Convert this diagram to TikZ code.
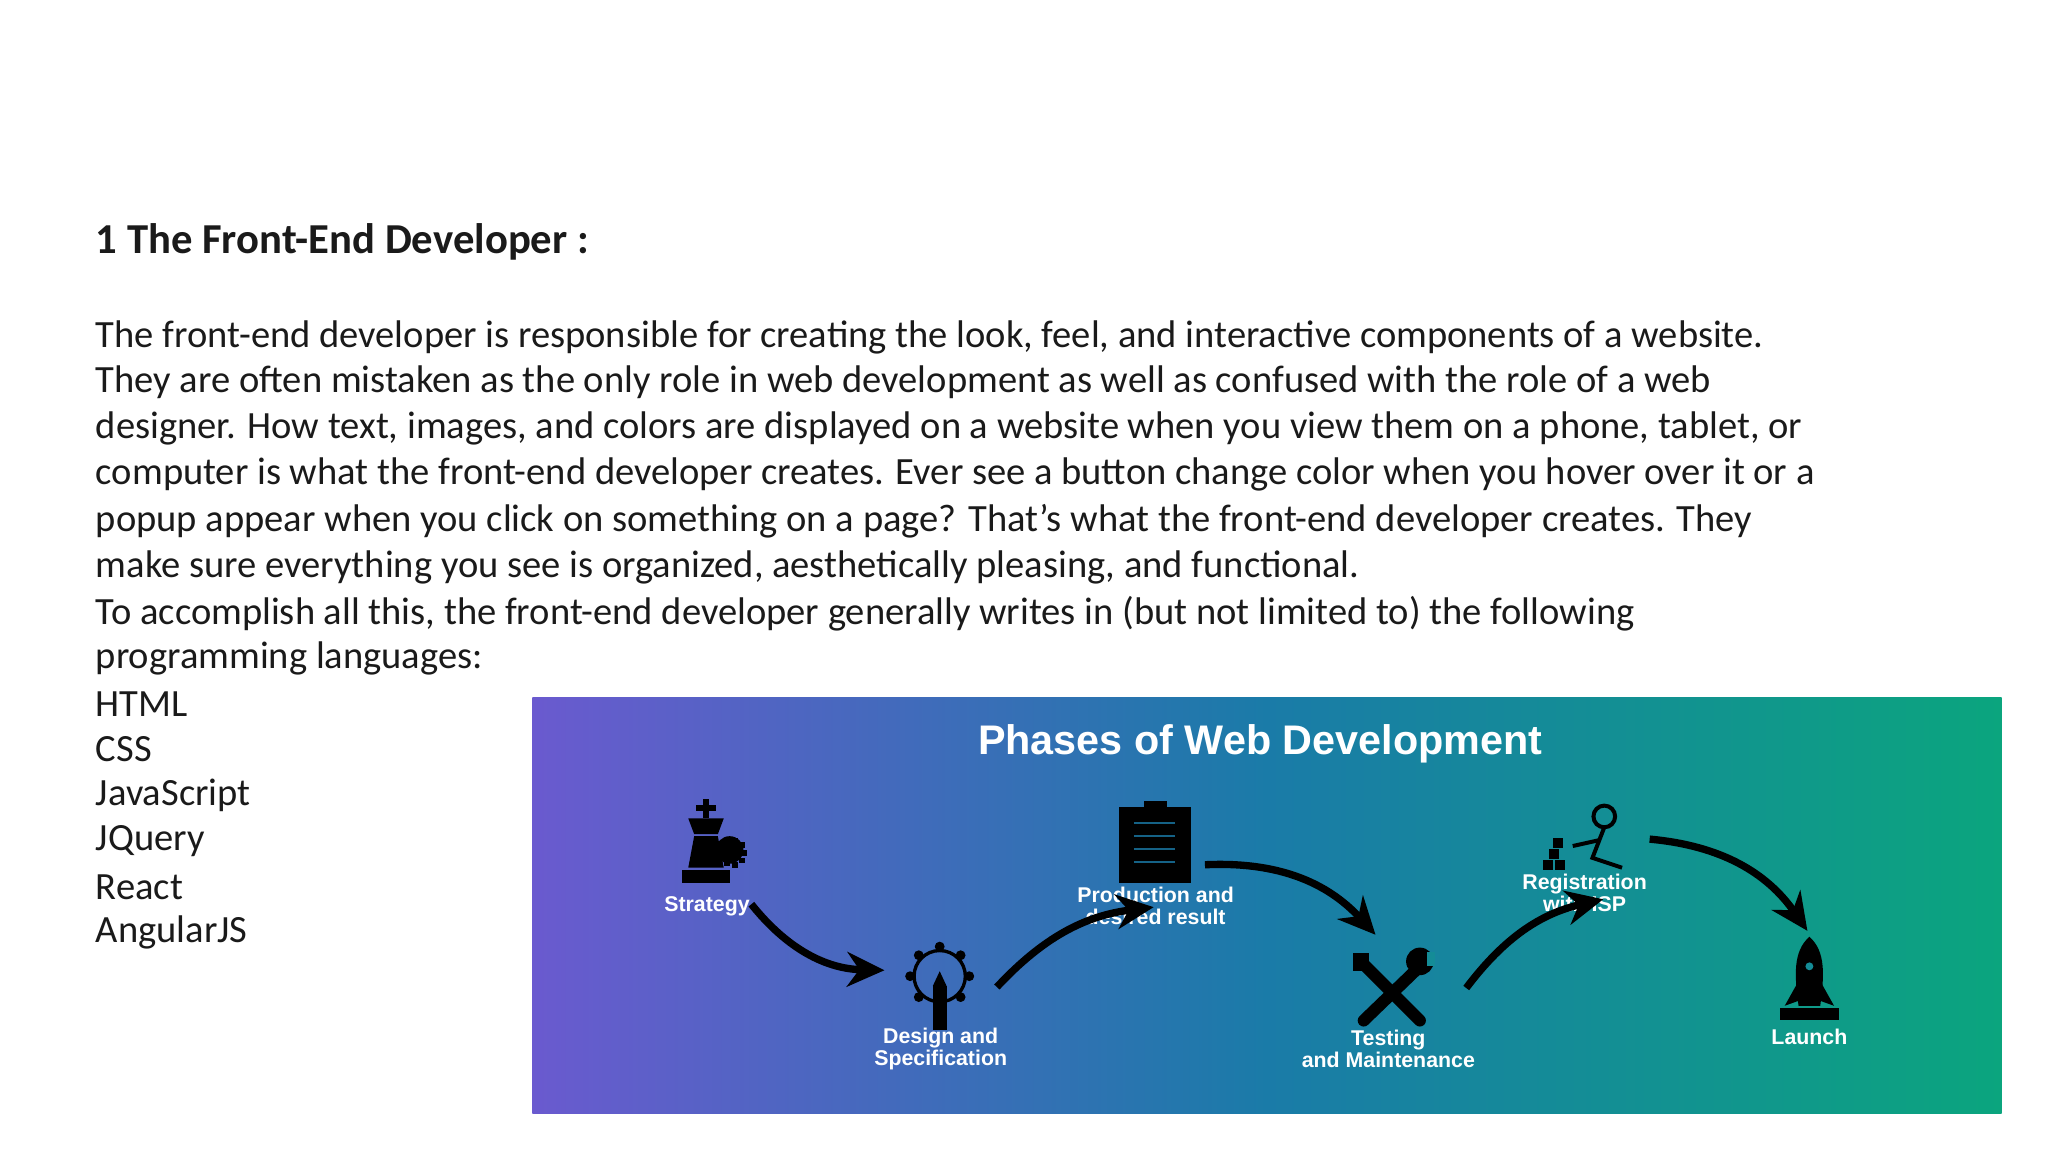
\documentclass[tikz,border=0pt]{standalone}
\usepackage{fontspec}
\setmainfont{Carlito}
\newfontfamily\lib{Liberation Sans}
\usetikzlibrary{arrows.meta}
\definecolor{txt}{HTML}{1A1A1A}
\definecolor{gpurple}{HTML}{6A5ACF}
\definecolor{gblue}{HTML}{1A7BA8}
\definecolor{ggreen}{HTML}{0BA57E}
\tikzset{
 body/.style={anchor=west,inner sep=0pt,font=\fontsize{28.9}{34}\selectfont,text=txt},
 lab/.style={align=center,text=white,font=\lib\bfseries\fontsize{16}{16.5}\selectfont,inner sep=0pt},
 flow/.style={line width=5.5pt,-{Stealth[length=28pt,width=26pt]}},
 ico/.style={fill=black},
}
\begin{document}
\begin{tikzpicture}[x=0.7395pt,y=-0.7395pt]
\useasboundingbox (0,0) rectangle (2077,1168);
\fill[white] (0,0) rectangle (2077,1168);
\node[body,font=\bfseries\fontsize{32}{36}\selectfont] (h) at (97,245) {1 The Front-End Developer :};
\node[body] (l1) at (97,342) {The front-end developer is responsible for creating the look, feel, and interactive components of a website.};
\node[body] (l2) at (97,388) {They are often mistaken as the only role in web development as well as confused with the role of a web};
\node[body] (l3) at (97,435) {designer. How text, images, and colors are displayed on a website when you view them on a phone, tablet, or};
\node[body] (l4) at (97,481) {computer is what the front-end developer creates. Ever see a button change color when you hover over it or a};
\node[body] (l5) at (97,529) {popup appear when you click on something on a page? That’s what the front-end developer creates. They};
\node[body] (l6) at (97,575) {make sure everything you see is organized, aesthetically pleasing, and functional.};
\node[body] (l7) at (97,622) {To accomplish all this, the front-end developer generally writes in (but not limited to) the following};
\node[body] (l8) at (97,668) {programming languages:};
\node[body] (l9) at (97,714) {HTML};
\node[body] (l10) at (97,760) {CSS};
\node[body] (l11) at (97,807) {JavaScript};
\node[body] (l12) at (97,853) {JQuery};
\node[body] (l13) at (97,900) {React};
\node[body] (l14) at (97,946) {AngularJS};
% banner
\shade[left color=gpurple,right color=ggreen,middle color=gblue] (540,707) rectangle (2030,1129);
\node[text=white,font=\lib\bfseries\fontsize{31}{33}\selectfont] (t) at (1278,754) {Phases of Web Development};
% labels
\node[lab] (s1) at (717,919) {Strategy};
\node[lab] (s2) at (954,1064) {Design and\\Specification};
\node[lab] (s3) at (1172,919) {Production and\\desired result};
\node[lab] (s4) at (1408,1064) {Testing\\and Maintenance};
\node[lab] (s5) at (1607,906) {Registration\\with ISP};
\node[lab] (s6) at (1835,1052) {Launch};
% icon: chess king
\fill[ico] (713,810) rectangle (719,830);
\fill[ico] (706,816) rectangle (726,822);
\fill[ico] (698,830) -- (734,830) -- (728,846) -- (704,846) -- cycle;
\fill[ico] (704,848) -- (728,848) -- (734,880) -- (698,880) -- cycle;
\fill[ico] (692,882) rectangle (740,896);
\fill[ico] (740,862) circle (14);
\foreach \a in {0,40,...,320} \fill[ico] (740,862) ++(\a:12) rectangle ++(6,6);
% icon: gear + pencil
\draw[black,line width=2.5pt] (953,990) circle (26);
\foreach \a in {0,45,...,315} \fill[ico] (953,990) ++(\a:30) circle (5);
\fill[ico] (946,1000) rectangle (960,1045);
\fill[ico] (946,1000) -- (953,985) -- (960,1000) -- cycle;
% icon: clipboard
\fill[ico] (1135,818) rectangle (1208,895);
\fill[ico] (1160,812) rectangle (1184,822);
\foreach \yy in {835,848,...,885} \draw[gblue!80!black,line width=1.5pt] (1150,\yy) -- (1192,\yy);
% icon: tools
\draw[black,line width=9pt,line cap=round] (1380,975) -- (1440,1035);
\draw[black,line width=9pt,line cap=round] (1440,980) -- (1383,1035);
\fill[ico] (1440,975) circle (14);
\fill[gblue!60!ggreen] (1447,965) rectangle (1455,980);
\fill[ico] (1372,966) rectangle (1388,985);
% icon: registration
\draw[black,line width=3pt] (1627,828) circle (11);
\draw[black,line width=3pt] (1627,839) -- (1615,870) -- (1645,880);
\draw[black,line width=3pt] (1622,852) -- (1595,858);
\foreach \p in {(1565,872),(1577,872),(1571,861),(1575,850)} \fill[ico] \p rectangle ++(10,10);
% icon: rocket
\fill[ico] (1835,950) .. controls (1852,965) and (1850,990) .. (1846,1020) -- (1824,1020) .. controls (1820,990) and (1818,965) .. (1835,950) -- cycle;
\fill[ico] (1824,995) -- (1810,1020) -- (1824,1015) -- cycle;
\fill[ico] (1846,995) -- (1860,1020) -- (1846,1015) -- cycle;
\fill[ico] (1805,1022) rectangle (1865,1034);
\fill[gblue!60!ggreen] (1835,980) circle (4);
% arrows
\coordinate (a1s) at (762,917); \coordinate (a1e) at (897,984);
\coordinate (a2s) at (1011,1001); \coordinate (a2e) at (1170,920);
\coordinate (a3s) at (1222,877); \coordinate (a3e) at (1395,948);
\coordinate (a4s) at (1487,1002); \coordinate (a4e) at (1626,912);
\coordinate (a5s) at (1673,851); \coordinate (a5e) at (1833,944);
\draw[flow] (a1s) to[bend right=25] (a1e);
\draw[flow] (a2s) to[bend left=20] (a2e);
\draw[flow] (a3s) to[bend left=25] (a3e);
\draw[flow] (a4s) to[bend left=20] (a4e);
\draw[flow] (a5s) to[bend left=25] (a5e);
\end{tikzpicture}
\end{document}
